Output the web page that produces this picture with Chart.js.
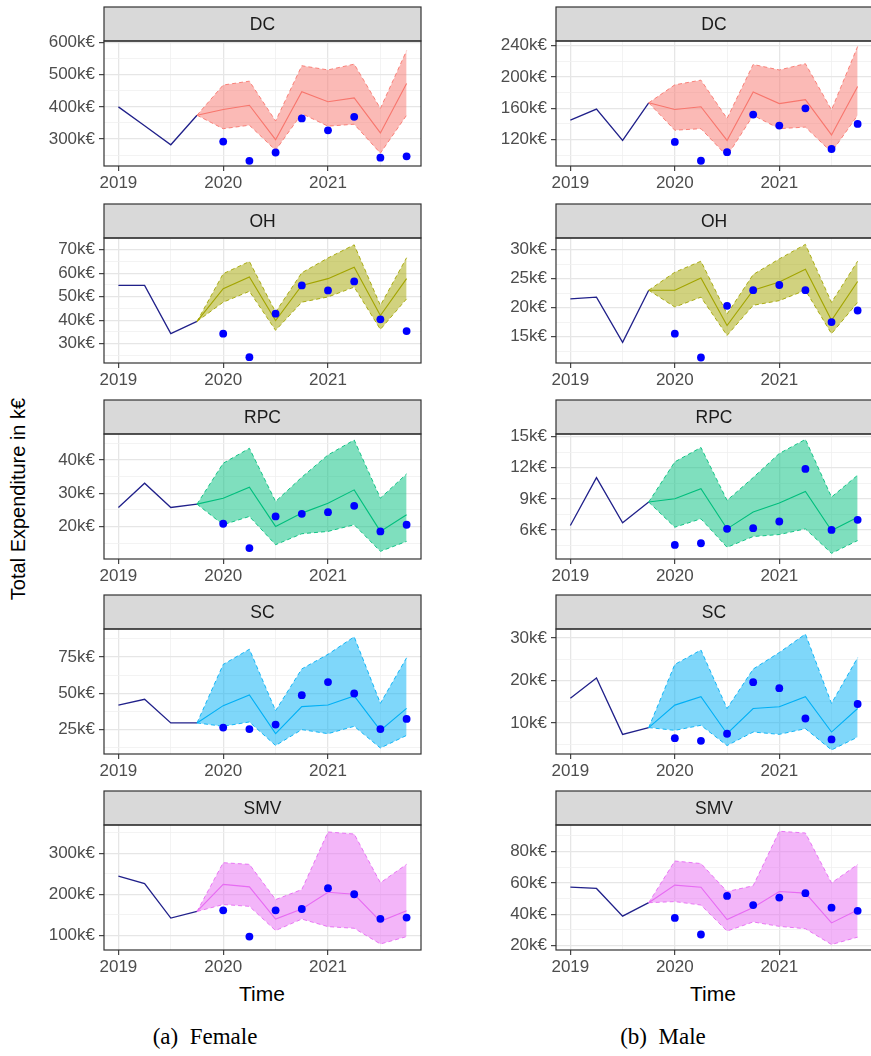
<!DOCTYPE html>
<html>
<head>
<meta charset="utf-8">
<script src="https://cdn.jsdelivr.net/npm/chart.js@4.4.1/dist/chart.umd.min.js"></script>
<style>
  html, body { margin: 0; padding: 0; background: #fff; }
  #page { position: relative; width: 871px; height: 1056px; overflow: hidden; background: #fff;
          font-family: "Liberation Sans", Arial, sans-serif; }
  #page canvas { position: absolute; }
  .ytitle { position: absolute; left: 18px; top: 499px; transform: translate(-50%, -50%) rotate(-90deg);
            font-size: 20px; white-space: nowrap; color: #000; }
  .xtitle { position: absolute; top: 994px; transform: translate(-50%, -50%); font-size: 21px; color: #000; }
  .cap { position: absolute; top: 1037px; transform: translate(-50%, -50%);
         font-family: "Liberation Serif", "Times New Roman", serif; font-size: 23px; white-space: pre; color: #000; }
</style>
</head>
<body>
<div id="page">
  <div class="ytitle">Total Expenditure in k€</div>
  <div class="xtitle" style="left:262px">Time</div>
  <div class="xtitle" style="left:713px">Time</div>
  <div class="cap" style="left:205px">(a)  Female</div>
  <div class="cap" style="left:663px">(b)  Male</div>
</div>
<script>
// Quarterly time axis (decimal years)
const histYears = [2019, 2019.25, 2019.5, 2019.75];
const fcYears   = [2019.75, 2020, 2020.25, 2020.5, 2020.75, 2021, 2021.25, 2021.5, 2021.75];
const obsYears  = [2020, 2020.25, 2020.5, 2020.75, 2021, 2021.25, 2021.5, 2021.75];
const xMajorYears = [2019, 2020, 2021];
const regions = ['DC', 'OH', 'RPC', 'SC', 'SMV'];

// ---- Female (values in k€) ----
const fDCHist = [400, 341, 282, 374];
const fDCMean = [374, 392, 405, 298, 447, 416, 428, 319, 473];
const fDCLow  = [374, 332, 343, 265, 379, 340, 346, 256, 374];
const fDCHigh = [374, 468, 480, 356, 528, 515, 533, 395, 575];
const fDCObs  = [292, 232, 258, 364, 327, 369, 242, 246];
const fDCTicks = [300, 400, 500, 600];

const fOHHist = [54.8, 54.8, 34.3, 39.5];
const fOHMean = [39.5, 53.4, 58.4, 39.9, 54.8, 57.7, 62.6, 42.0, 57.7];
const fOHLow  = [39.5, 47.7, 52.3, 35.7, 47.7, 49.9, 54.1, 36.1, 49.1];
const fOHHigh = [39.5, 59.8, 65.0, 43.5, 60.2, 66.5, 72.1, 46.3, 66.6];
const fOHObs  = [34.3, 24.3, 42.8, 54.8, 52.7, 56.5, 40.4, 35.4];
const fOHTicks = [30, 40, 50, 60, 70];

const fRPCHist = [25.7, 33.0, 25.7, 26.7];
const fRPCMean = [26.7, 28.5, 31.8, 20.0, 24.0, 27.0, 31.0, 18.5, 23.5];
const fRPCLow  = [26.7, 20.5, 23.0, 14.5, 17.8, 18.5, 20.5, 12.5, 15.5];
const fRPCHigh = [26.7, 39.0, 43.5, 27.5, 34.8, 41.5, 46.0, 28.5, 35.8];
const fRPCObs  = [20.8, 13.5, 23.0, 23.8, 24.3, 26.2, 18.5, 20.5];
const fRPCTicks = [20, 30, 40];

const fSCHist = [41.8, 45.8, 29.4, 29.4];
const fSCMean = [29.4, 41.4, 48.8, 22.0, 40.7, 41.8, 48.1, 24.3, 39.5];
const fSCLow  = [29.4, 27.1, 30.1, 13.8, 24.8, 22.0, 27.1, 12.1, 20.8];
const fSCHigh = [29.4, 69.9, 80.4, 37.9, 66.8, 76.9, 89.0, 43.0, 74.5];
const fSCObs  = [26.2, 25.2, 28.3, 48.6, 57.7, 49.8, 25.2, 32.2];
const fSCTicks = [25, 50, 75];

const fSMVHist = [244, 226, 142, 158];
const fSMVMean = [158, 224, 218, 139.5, 164, 205, 200, 134, 160];
const fSMVLow  = [158, 175, 170.5, 111.5, 139.5, 121, 117, 78.7, 96.7];
const fSMVHigh = [158, 277, 273, 187, 211.5, 352, 347, 228, 273];
const fSMVObs  = [160.7, 96.7, 160.7, 164, 214.8, 200, 140, 143];
const fSMVTicks = [100, 200, 300];

// ---- Male (values in k€) ----
const mDCHist = [145, 159, 119, 167];
const mDCMean = [167, 158.5, 162, 119, 181, 166, 171, 126, 188];
const mDCLow  = [167, 132, 134, 99, 151, 134, 136, 104, 151];
const mDCHigh = [167, 190, 196, 147, 216, 209, 217, 158, 239];
const mDCObs  = [117, 93, 104, 152, 138, 160, 108, 140];
const mDCTicks = [120, 160, 200, 240];

const mOHHist = [21.5, 21.8, 14.0, 23.0];
const mOHMean = [23.0, 23.0, 25.1, 16.9, 23.0, 24.4, 26.6, 17.8, 24.5];
const mOHLow  = [23.0, 20.1, 21.8, 15.2, 20.4, 21.2, 23.0, 15.5, 20.9];
const mOHHigh = [23.0, 26.1, 28.0, 18.9, 25.7, 28.4, 30.9, 20.9, 28.0];
const mOHObs  = [15.5, 11.4, 20.3, 23.0, 23.9, 23.0, 17.5, 19.5];
const mOHTicks = [15, 20, 25, 30];

const mRPCHist = [6.42, 11.05, 6.68, 8.69];
const mRPCMean = [8.69, 9.0, 9.98, 6.1, 7.72, 8.59, 9.72, 5.94, 7.23];
const mRPCLow  = [8.69, 6.26, 7.07, 4.32, 5.36, 5.55, 6.1, 3.74, 4.97];
const mRPCHigh = [8.69, 12.57, 13.96, 8.85, 11.05, 13.38, 14.74, 9.17, 11.28];
const mRPCObs  = [4.55, 4.71, 6.1, 6.17, 6.81, 11.89, 6.0, 6.97];
const mRPCTicks = [6, 9, 12, 15];

const mSCHist = [15.8, 20.6, 7.3, 8.9];
const mSCMean = [8.9, 14.2, 16.2, 7.45, 13.4, 13.8, 16.2, 7.85, 13.4];
const mSCLow  = [8.9, 8.25, 9.44, 4.66, 7.85, 7.3, 8.65, 3.63, 6.65];
const mSCHigh = [8.9, 23.8, 27.2, 13.4, 22.7, 26.6, 30.96, 14.6, 25.4];
const mSCObs  = [6.4, 5.78, 7.45, 19.6, 18.2, 11.04, 6.1, 14.46];
const mSCTicks = [10, 20, 30];

const mSMVHist = [57.3, 56.5, 38.8, 47.4];
const mSMVMean = [47.4, 58.6, 57.3, 36.6, 44.4, 54.5, 53.5, 34.5, 42.7];
const mSMVLow  = [47.4, 48.1, 45.9, 29.3, 35.1, 32.3, 30.8, 20.7, 25.4];
const mSMVHigh = [47.4, 74.0, 72.4, 54.5, 58.2, 93.0, 91.9, 60.0, 71.8];
const mSMVObs  = [37.7, 27.1, 51.7, 45.9, 50.7, 53.5, 44.2, 42.2];
const mSMVTicks = [20, 40, 60, 80];

// One hue per region (ggplot default palette)
const regionHues = ['#F8766D', '#A3A500', '#00BF7D', '#00B0F6', '#E76BF3'];

const femaleSeries = [
  [fDCHist, fDCMean, fDCLow, fDCHigh, fDCObs, fDCTicks, [216, 605]],
  [fOHHist, fOHMean, fOHLow, fOHHigh, fOHObs, fOHTicks, [21.8, 75]],
  [fRPCHist, fRPCMean, fRPCLow, fRPCHigh, fRPCObs, fRPCTicks, [10.2, 47.8]],
  [fSCHist, fSCMean, fSCLow, fSCHigh, fSCObs, fSCTicks, [7.94, 94.4]],
  [fSMVHist, fSMVMean, fSMVLow, fSMVHigh, fSMVObs, fSMVTicks, [64, 369]]
];
const maleSeries = [
  [mDCHist, mDCMean, mDCLow, mDCHigh, mDCObs, mDCTicks, [86.3, 246]],
  [mOHHist, mOHMean, mOHLow, mOHHigh, mOHObs, mOHTicks, [10.45, 32]],
  [mRPCHist, mRPCMean, mRPCLow, mRPCHigh, mRPCObs, mRPCTicks, [3.19, 15.26]],
  [mSCHist, mSCMean, mSCLow, mSCHigh, mSCObs, mSCTicks, [2.67, 32.15]],
  [mSMVHist, mSMVMean, mSMVLow, mSMVHigh, mSMVObs, mSMVTicks, [17.2, 97]]
];

// Facet layout
const rowStripTops = [7, 204, 400, 595, 791];
const STRIP_H = 34, PLOT_H = 125, XAXIS_H = 30, CANVAS_PAD_TOP = 2;
const columns = [
  { series: femaleSeries, left: 0,   width: 425, yAxisW: 104 },
  { series: maleSeries,   left: 440, width: 436, yAxisW: 116 }
];

const FONT = '"Liberation Sans", Arial, sans-serif';
const GRID_MAJOR = '#E6E6E6', GRID_MINOR = '#F0F0F0', FRAME = '#333333', TICK_TXT = '#4D4D4D';

// Strip header and panel border
const facetFrame = {
  id: 'facetFrame',
  afterDraw(chart, args, opts) {
    const { ctx, chartArea: a } = chart;
    const top = CANVAS_PAD_TOP;
    ctx.save();
    ctx.fillStyle = '#D9D9D9';
    ctx.fillRect(a.left, top, a.right - a.left, a.top - top);
    ctx.strokeStyle = FRAME;
    ctx.lineWidth = 1.2;
    ctx.strokeRect(a.left, top, a.right - a.left, a.top - top);
    ctx.strokeRect(a.left, a.top, a.right - a.left, a.bottom - a.top);
    ctx.fillStyle = '#1A1A1A';
    ctx.font = '17.5px ' + FONT;
    ctx.textAlign = 'center';
    ctx.textBaseline = 'middle';
    ctx.fillText(opts.label, (a.left + a.right) / 2, (top + a.top) / 2 + 1);
    ctx.restore();
  }
};

function pts(xs, ys) { return xs.map((x, i) => ({ x: x, y: ys[i] })); }

function yTickValues(major, range) {
  const step = major[1] - major[0];
  const vals = [];
  for (let v = major[0] - step / 2; v <= range[1]; v += step / 2) {
    if (v >= range[0]) vals.push(+v.toFixed(6));
  }
  return vals;
}

const page = document.getElementById('page');
columns.forEach(col => {
  col.series.forEach((s, r) => {
    const [hist, mean, low, high, obs, ticks, range] = s;
    const hue = regionHues[r];
    const canvas = document.createElement('canvas');
    const h = CANVAS_PAD_TOP + STRIP_H + PLOT_H + XAXIS_H;
    canvas.width = col.width; canvas.height = h;
    canvas.style.left = col.left + 'px';
    canvas.style.top = (rowStripTops[r] - CANVAS_PAD_TOP) + 'px';
    canvas.style.width = col.width + 'px';
    canvas.style.height = h + 'px';
    page.appendChild(canvas);

    const majorSet = new Set(ticks);
    const xMinor = [2019.5, 2020.5, 2021.5];
    const xSet = new Set(xMajorYears);

    new Chart(canvas, {
      type: 'line',
      data: {
        datasets: [
          { data: pts(histYears, hist), borderColor: '#20208A', borderWidth: 1.3,
            pointRadius: 0, fill: false, order: 5 },
          { data: pts(fcYears, low), borderColor: hue, borderWidth: 0.9, borderDash: [4, 3],
            pointRadius: 0, fill: false, order: 3 },
          { data: pts(fcYears, high), borderColor: hue, borderWidth: 0.9, borderDash: [4, 3],
            pointRadius: 0, fill: 1, backgroundColor: hue + '80', order: 4 },
          { data: pts(fcYears, mean), borderColor: hue, borderWidth: 1.1,
            pointRadius: 0, fill: false, order: 2 },
          { data: pts(obsYears, obs), showLine: false, pointRadius: 3.9,
            pointBackgroundColor: '#0000FF', pointBorderWidth: 0, order: 1 }
        ]
      },
      options: {
        responsive: false,
        animation: false,
        events: [],
        layout: { padding: { top: CANVAS_PAD_TOP + STRIP_H, right: 4, left: 0, bottom: 0 } },
        plugins: {
          legend: { display: false },
          tooltip: { enabled: false },
          facetFrame: { label: regions[r] }
        },
        elements: { line: { tension: 0 } },
        scales: {
          x: {
            type: 'linear',
            min: 2018.8625, max: 2021.8875,
            afterBuildTicks: sc => { sc.ticks = xMajorYears.concat(xMinor).sort().map(v => ({ value: v })); },
            afterFit: sc => { sc.height = XAXIS_H; },
            border: { display: false },
            grid: {
              color: c => xSet.has(c.tick && c.tick.value) ? GRID_MAJOR : GRID_MINOR,
              lineWidth: c => xSet.has(c.tick && c.tick.value) ? 1.3 : 0.8,
              tickColor: c => xSet.has(c.tick && c.tick.value) ? FRAME : 'rgba(0,0,0,0)',
              tickWidth: 1.1,
              tickLength: 5
            },
            ticks: {
              autoSkip: false, maxRotation: 0, padding: 2,
              color: TICK_TXT, font: { family: FONT, size: 17 },
              callback: v => xSet.has(v) ? String(v) : ''
            }
          },
          y: {
            type: 'linear',
            min: range[0], max: range[1],
            afterBuildTicks: sc => { sc.ticks = yTickValues(ticks, range).map(v => ({ value: v })); },
            afterFit: sc => { sc.width = col.yAxisW; },
            border: { display: false },
            grid: {
              color: c => majorSet.has(c.tick && c.tick.value) ? GRID_MAJOR : GRID_MINOR,
              lineWidth: c => majorSet.has(c.tick && c.tick.value) ? 1.3 : 0.8,
              tickColor: c => majorSet.has(c.tick && c.tick.value) ? FRAME : 'rgba(0,0,0,0)',
              tickWidth: 1.1,
              tickLength: 5
            },
            ticks: {
              autoSkip: false, padding: 4,
              color: TICK_TXT, font: { family: FONT, size: 17 },
              callback: v => majorSet.has(v) ? v + 'k€' : ''
            }
          }
        }
      },
      plugins: [facetFrame]
    });
  });
});
</script>
</body>
</html>
